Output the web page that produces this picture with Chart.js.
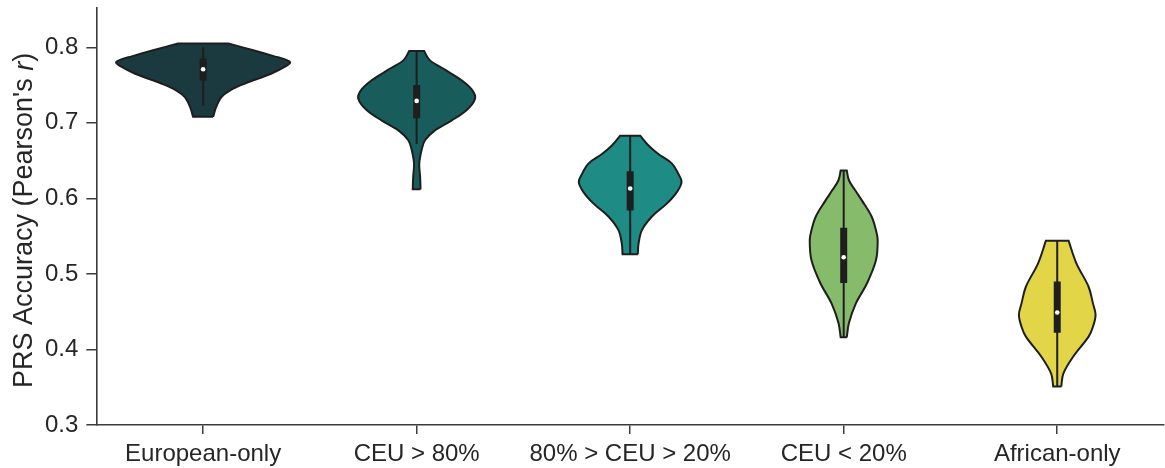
<!DOCTYPE html>
<html>
<head>
<meta charset="utf-8">
<script src="https://cdn.jsdelivr.net/npm/chart.js@4.4.1/dist/chart.umd.min.js"></script>
<style>
  html, body { margin: 0; padding: 0; background: #ffffff; }
  #wrap { width: 1165px; height: 468px; }
</style>
</head>
<body>
<div id="wrap"><canvas id="c" width="1165" height="468"></canvas></div>
<script>
// ---- Data ----
const categories = ['European-only', 'CEU > 80%', '80% > CEU > 20%', 'CEU < 20%', 'African-only'];
const yTicks = [0.3, 0.4, 0.5, 0.6, 0.7, 0.8];

// Inner box plot statistics
const medians     = [0.771, 0.729, 0.613, 0.522, 0.449];
const q1          = [0.756, 0.706, 0.584, 0.488, 0.422];
const q3          = [0.785, 0.750, 0.636, 0.561, 0.490];
const whiskerLow  = [0.723, 0.672, 0.526, 0.416, 0.351];
const whiskerHigh = [0.800, 0.794, 0.683, 0.637, 0.544];

// Violin density profiles: [value, relative density], top to bottom
const europeanProfile = [[0.805,0.29],[0.796,0.575],[0.788,0.82],[0.784,0.94],[0.780,1.0],[0.775,0.95],[0.765,0.78],[0.752,0.48],[0.743,0.31],[0.734,0.21],[0.721,0.15],[0.708,0.115]];
const ceuAbove80Profile = [[0.795,0.086],[0.783,0.15],[0.770,0.33],[0.756,0.52],[0.743,0.64],[0.732,0.67],[0.717,0.575],[0.703,0.40],[0.690,0.21],[0.677,0.096],[0.664,0.057],[0.646,0.03],[0.628,0.04],[0.612,0.045]];
const ceuMiddleProfile = [[0.683,0.115],[0.670,0.21],[0.659,0.32],[0.646,0.48],[0.633,0.55],[0.622,0.59],[0.609,0.54],[0.593,0.42],[0.576,0.25],[0.558,0.135],[0.540,0.096],[0.526,0.088]];
const ceuBelow20Profile = [[0.637,0.035],[0.624,0.06],[0.611,0.13],[0.597,0.21],[0.576,0.32],[0.558,0.37],[0.545,0.39],[0.518,0.37],[0.487,0.265],[0.461,0.14],[0.435,0.06],[0.416,0.035]];
const africanProfile = [[0.544,0.13],[0.514,0.22],[0.483,0.36],[0.461,0.41],[0.446,0.44],[0.430,0.41],[0.417,0.36],[0.390,0.18],[0.368,0.07],[0.351,0.046]];

const profiles = [europeanProfile, ceuAbove80Profile, ceuMiddleProfile, ceuBelow20Profile, africanProfile];
const violinColors = ['#1b3a3f', '#185c5b', '#1e8b85', '#87bb6c', '#e2d548'];

// ---- Styling constants ----
const HALF = 0.408;          // half width (in category units) for density 1
const FONT = "'Liberation Sans', Arial, Helvetica, sans-serif";
const TEXT = '#262626';
const AXIS = '#3c3c3c';
const INK = '#1e1e1e';

function violinPoints(i, prof) {
  const right = [];
  const left = [];
  for (let k = prof.length - 1; k >= 0; k--) right.push({x: i + prof[k][1] * HALF, y: prof[k][0]});
  for (let k = 0; k < prof.length; k++) left.push({x: i - prof[k][1] * HALF, y: prof[k][0]});
  const pts = [];
  pts.push(right[0]);
  right.forEach(p => pts.push(p));
  pts.push(right[right.length - 1]);
  pts.push(left[0]);
  left.forEach(p => pts.push(p));
  pts.push(left[left.length - 1]);
  pts.push(right[0]);
  pts.push(right[0]);
  return pts;
}

const datasets = [];
profiles.forEach((prof, i) => {
  datasets.push({
    data: violinPoints(i, prof),
    showLine: true,
    fill: 'shape',
    backgroundColor: violinColors[i],
    borderColor: INK,
    borderWidth: 2,
    pointRadius: 0,
    tension: 0.35,
    order: 10
  });
  datasets.push({
    data: [{x: i, y: whiskerLow[i]}, {x: i, y: whiskerHigh[i]}],
    showLine: true,
    borderColor: INK,
    borderWidth: 2,
    pointRadius: 0,
    tension: 0,
    order: 5
  });
  datasets.push({
    data: [{x: i, y: q1[i]}, {x: i, y: q3[i]}],
    showLine: true,
    borderColor: INK,
    borderWidth: 7,
    borderCapStyle: 'butt',
    pointRadius: 0,
    tension: 0,
    order: 4
  });
});
datasets.push({
  data: medians.map((m, i) => ({x: i, y: m})),
  showLine: false,
  pointRadius: 2.3,
  pointBackgroundColor: '#ffffff',
  pointBorderWidth: 0,
  order: 0
});

const yTitlePlugin = {
  id: 'yTitle',
  afterDraw(chart) {
    const ctx = chart.ctx;
    const a = chart.chartArea;
    const size = 27;
    const parts = [
      {t: "PRS Accuracy (Pearson's ", f: `${size}px ${FONT}`},
      {t: 'r', f: `italic ${size}px ${FONT}`},
      {t: ')', f: `${size}px ${FONT}`}
    ];
    ctx.save();
    let total = 0;
    parts.forEach(p => { ctx.font = p.f; p.w = ctx.measureText(p.t).width; total += p.w; });
    ctx.translate(25, (a.top + a.bottom) / 2 + 4);
    ctx.rotate(-Math.PI / 2);
    ctx.fillStyle = TEXT;
    ctx.textBaseline = 'middle';
    ctx.textAlign = 'left';
    let x = -total / 2;
    parts.forEach(p => { ctx.font = p.f; ctx.fillText(p.t, x, 0); x += p.w; });
    ctx.restore();
  }
};

new Chart(document.getElementById('c'), {
  type: 'scatter',
  data: { datasets },
  plugins: [yTitlePlugin],
  options: {
    responsive: false,
    animation: false,
    devicePixelRatio: 1,
    layout: { autoPadding: false, padding: { left: 37, top: 8, right: 1, bottom: 0 } },
    plugins: { legend: { display: false }, tooltip: { enabled: false } },
    scales: {
      x: {
        type: 'linear',
        min: -0.5,
        max: 4.5,
        afterBuildTicks(scale) { scale.ticks = categories.map((c, i) => ({value: i})); },
        afterFit(scale) { scale.paddingLeft = 0; scale.paddingRight = 0; scale.height = 43; },
        ticks: {
          autoSkip: false,
          maxRotation: 0,
          padding: 6,
          color: TEXT,
          font: { family: FONT, size: 24 },
          callback: (v) => categories[Math.round(v)]
        },
        grid: { drawOnChartArea: false, drawTicks: true, tickLength: 9, color: AXIS, lineWidth: 1.5 },
        border: { display: true, color: AXIS, width: 1.6 }
      },
      y: {
        type: 'linear',
        min: 0.3,
        max: 0.852,
        afterBuildTicks(scale) { scale.ticks = yTicks.map(v => ({value: v})); },
        afterFit(scale) { scale.paddingTop = 0; scale.paddingBottom = 0; },
        ticks: {
          padding: 8,
          color: TEXT,
          font: { family: FONT, size: 24 },
          callback: (v) => Number(v).toFixed(1)
        },
        grid: { drawOnChartArea: false, drawTicks: true, tickLength: 10, color: AXIS, lineWidth: 1.5 },
        border: { display: true, color: AXIS, width: 1.6 }
      }
    }
  }
});
</script>
</body>
</html>
